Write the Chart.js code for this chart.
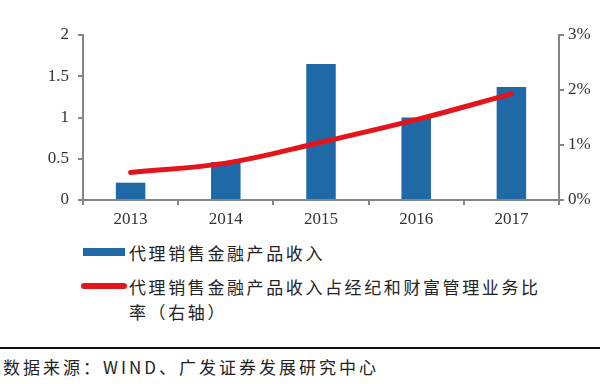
<!DOCTYPE html>
<html>
<head>
<meta charset="utf-8">
<script src="https://cdn.jsdelivr.net/npm/chart.js@4"></script>
<style>
  body { margin: 0; background: #fff; width: 600px; height: 384px; overflow: hidden; position: relative; }
  #wrap { position: absolute; left: 0; top: 0; width: 600px; height: 232px; }
  .leg { position: absolute; font-family: "Noto Sans CJK SC", sans-serif; font-size: 17px; color: #222; letter-spacing: 2.6px; line-height: 25px; }
  .sw { position: absolute; }
  #sep { position: absolute; left: 0; top: 347px; width: 600px; height: 2px; background: #111; }
  #src { position: absolute; left: 3px; top: 356px; font-family: "Noto Sans CJK SC", sans-serif; font-size: 17px; letter-spacing: 3px; color: #222; line-height: 22px; }
</style>
</head>
<body>
<div id="wrap"><canvas id="c" width="600" height="232"></canvas></div>
<div class="sw" style="left:83px;top:248px;width:42px;height:8px;background:#1f69a7"></div>
<div class="leg" style="left:129px;top:240px;">代理销售金融产品收入</div>
<div class="sw" style="left:81px;top:283px;width:46px;height:6px;background:#e3141b;border-radius:3px"></div>
<div class="leg" style="left:129px;top:274px;width:422px;">代理销售金融产品收入占经纪和财富管理业务比率（右轴）</div>
<div id="sep"></div>
<div id="src">数据来源：WIND、广发证券发展研究中心</div>
<script>
const years = ["2013", "2014", "2015", "2016", "2017"];
const income = [0.21, 0.46, 1.65, 1.0, 1.37];
const ratio = [0.50, 0.67, 1.05, 1.46, 1.93];
const leftTicks = [0, 0.5, 1, 1.5, 2];
const rightTicks = [0, 1, 2, 3];

const axisGray = "#858585";
const tickFont = { family: "Liberation Serif", size: 17 };

new Chart(document.getElementById("c"), {
  data: {
    labels: years,
    datasets: [
      {
        type: "line",
        label: "代理销售金融产品收入占经纪和财富管理业务比率（右轴）",
        data: ratio,
        yAxisID: "y1",
        borderColor: "#e3141b",
        borderWidth: 5,
        borderCapStyle: "round",
        tension: 0.4,
        pointRadius: 0,
        fill: false,
        order: 0
      },
      {
        type: "bar",
        label: "代理销售金融产品收入",
        data: income,
        yAxisID: "y",
        backgroundColor: "#1f69a7",
        categoryPercentage: 1,
        barPercentage: 0.31,
        order: 1
      }
    ]
  },
  options: {
    responsive: false,
    animation: false,
    layout: { padding: { top: 35, left: 0, right: 0, bottom: 0 } },
    plugins: { legend: { display: false }, tooltip: { enabled: false } },
    scales: {
      x: {
        offset: true,
        grid: { offset: true, drawOnChartArea: false, tickLength: 5, color: axisGray, lineWidth: 2 },
        border: { color: axisGray, width: 2 },
        ticks: { color: "#333", font: tickFont, padding: 4 },
        afterFit: s => { s.height = 32; }
      },
      y: {
        position: "left",
        min: 0, max: 2,
        afterBuildTicks: s => { s.ticks = leftTicks.map(v => ({ value: v })); },
        grid: { drawOnChartArea: false, tickLength: 5, color: axisGray, lineWidth: 2 },
        border: { color: axisGray, width: 2 },
        ticks: { color: "#333", font: tickFont, padding: 9, callback: v => String(v) },
        afterFit: s => { s.width = 83; }
      },
      y1: {
        position: "right",
        min: 0, max: 3,
        afterBuildTicks: s => { s.ticks = rightTicks.map(v => ({ value: v })); },
        grid: { drawOnChartArea: false, tickLength: 5, color: axisGray, lineWidth: 2 },
        border: { color: axisGray, width: 2 },
        ticks: { color: "#333", font: tickFont, padding: 4, callback: v => v + "%" },
        afterFit: s => { s.width = 41; }
      }
    }
  }
});
</script>
</body>
</html>
